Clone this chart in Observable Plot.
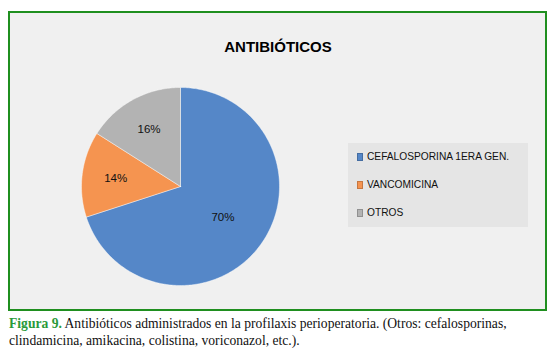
<!DOCTYPE html>
<html>
<head>
<meta charset="utf-8">
<script src="https://cdn.jsdelivr.net/npm/d3@7"></script>
<script src="https://cdn.jsdelivr.net/npm/@observablehq/plot@0.6"></script>
<style>
  html, body { margin: 0; padding: 0; background: #ffffff; width: 554px; height: 355px; overflow: hidden; }
  #box { position: absolute; left: 8px; top: 11px; width: 535px; height: 296px; border: 2px solid #1f8f1f; background: #f0f0f0; }
  #chart { position: absolute; left: 0; top: 0; }
  #legend { position: absolute; left: 338px; top: 130px; width: 180px; height: 84px; background: #e5e5e5; font-family: Arial, "Liberation Sans", sans-serif; font-size: 10.2px; color: #111; }
  .item { position: absolute; left: 9px; display: flex; align-items: center; white-space: nowrap; }
  .sw { width: 6px; height: 8px; margin-right: 4px; box-sizing: border-box; }
  #caption { position: absolute; left: 9px; top: 315px; width: 545px; font-family: "Liberation Serif", "Times New Roman", serif; font-size: 13.6px; line-height: 17px; color: #111; white-space: nowrap; }
  #caption b { color: #2a9a3a; }
</style>
</head>
<body>
<div id="box">
  <div id="chart"></div>
  <div id="legend"></div>
</div>
<div id="caption"><b>Figura 9.</b> Antibióticos administrados en la profilaxis perioperatoria. (Otros: cefalosporinas,<br>clindamicina, amikacina, colistina, voriconazol, etc.).</div>
<script>
const title = "ANTIBIÓTICOS";
const categories = ["CEFALOSPORINA 1ERA GEN.", "VANCOMICINA", "OTROS"];
const values = [70, 14, 16];
const colors = ["#5587c8", "#f59450", "#b3b3b3"];

const W = 535, H = 296;
const cx = 170, cy = 173, R = 99;

const pie = d3.pie().sort(null).value(d => d.value)(categories.map((name, i) => ({name, value: values[i]})));
const total = d3.sum(values);

// polygon points in unit space
const pts = [];
pie.forEach(p => {
  const n = Math.max(8, Math.ceil((p.endAngle - p.startAngle) * 60));
  pts.push({name: p.data.name, x: 0, y: 0});
  for (let k = 0; k <= n; k++) {
    const a = p.startAngle + (p.endAngle - p.startAngle) * k / n;
    pts.push({name: p.data.name, x: Math.sin(a), y: Math.cos(a)});
  }
  pts.push({name: p.data.name, x: 0, y: 0});
});

const labels = pie.map(p => {
  const a = (p.startAngle + p.endAngle) / 2;
  const share = p.data.value / total;
  const lr = share > 0.5 ? 0.53 : 0.66;
  return {name: p.data.name, x: Math.sin(a) * lr, y: Math.cos(a) * lr, text: Math.round(share * 100) + "%"};
});

const chart = Plot.plot({
  width: W,
  height: H,
  margin: 0,
  style: {background: "transparent", fontFamily: "Arial, 'Liberation Sans', sans-serif"},
  x: {domain: [-1, 1], range: [cx - R, cx + R], axis: null},
  y: {domain: [-1, 1], range: [cy + R, cy - R], axis: null},
  color: {domain: categories, range: colors},
  marks: [
    Plot.line(pts, {x: "x", y: "y", z: "name", fill: "name", stroke: "#ffffff", strokeWidth: 0.6, strokeOpacity: 0.7, curve: "linear-closed"}),
    Plot.text(labels, {x: "x", y: "y", text: "text", fontSize: 11.5, fill: "#111"}),
    Plot.text([title], {frameAnchor: "top", dx: 0, dy: 28, text: d => d, fontSize: 15, fontWeight: "bold", fill: "#000", x: null, y: null})
  ]
});
document.getElementById("chart").appendChild(chart);

const legend = document.getElementById("legend");
categories.forEach((c, i) => {
  const it = document.createElement("div");
  it.className = "item";
  it.style.top = (8 + i * 28) + "px";
  it.innerHTML = `<span class="sw" style="background:${colors[i]};border:1px solid ${d3.color(colors[i]).darker(0.6)}"></span><span>${c}</span>`;
  legend.appendChild(it);
});
</script>
</body>
</html>
